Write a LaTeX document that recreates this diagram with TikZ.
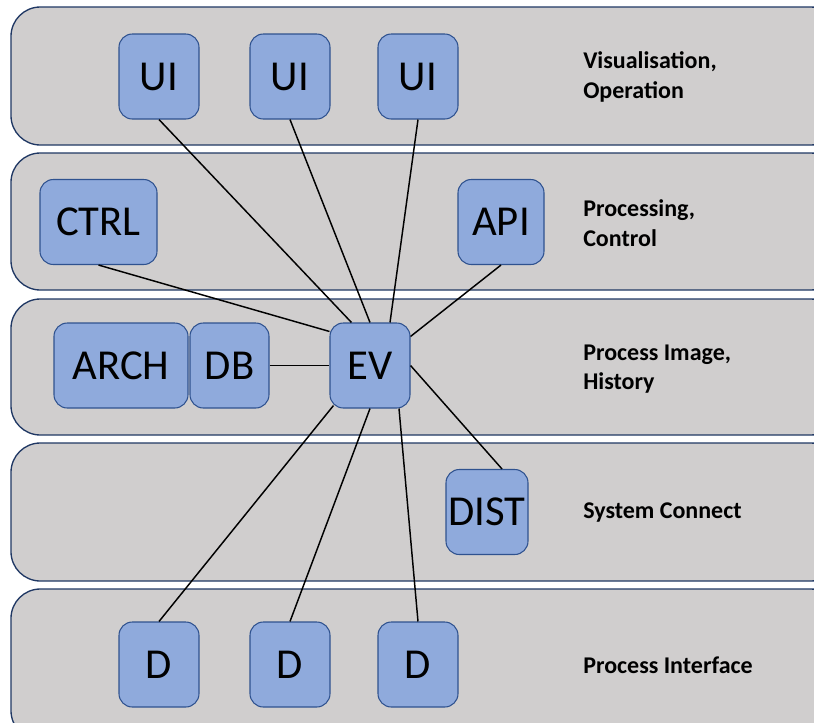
\documentclass[tikz,border=0pt]{standalone}
\usepackage{fontspec}
\setmainfont{Carlito}
\usetikzlibrary{calc}
\definecolor{bandfill}{HTML}{D0CECE}
\definecolor{bandline}{HTML}{203864}
\definecolor{boxfill}{HTML}{8FAADC}
\definecolor{boxline}{HTML}{2F528F}
\tikzset{
  band/.style={draw=bandline, fill=bandfill, line width=1pt, rounded corners=22pt},
  unit/.style={draw=boxline, fill=boxfill, line width=0.8pt, rounded corners=10pt,
    inner sep=0pt, minimum height=63.75pt, font=\fontsize{32}{36}\selectfont},
  layerlabel/.style={anchor=west, align=left, inner sep=0pt,
    font=\fontsize{18}{22}\selectfont\bfseries},
  link/.style={draw=black, line width=1.1pt}
}
\begin{document}
\begin{tikzpicture}[x=0.75pt, y=-0.75pt]
  \useasboundingbox (0,0) rectangle (814,722);
  \clip (0,0) rectangle (814,722);
  \fill[white] (0,0) rectangle (814,722);

  % layers
  \draw[band] (11,7)   rectangle (840,145);
  \draw[band] (11,153) rectangle (840,290);
  \draw[band] (11,299) rectangle (840,435);
  \draw[band] (11,443) rectangle (840,581);
  \draw[band] (11,589) rectangle (840,740);

  % layer names
  \node[layerlabel] (l1) at (583,77)  {Visualisation,\\Operation};
  \node[layerlabel] (l2) at (583,223) {Processing,\\Control};
  \node[layerlabel] (l3) at (583,369) {Process Image,\\History};
  \node[layerlabel] (l4) at (583,513) {System Connect};
  \node[layerlabel] (l5) at (583,665) {Process Interface};

  % components
  \node[unit, minimum width=60pt]   (ui1)  at (159,76.5)  {UI};
  \node[unit, minimum width=60pt]   (ui2)  at (290,76.5)  {UI};
  \node[unit, minimum width=60pt]   (ui3)  at (418,76.5)  {UI};
  \node[unit, minimum width=87.75pt] (ctrl) at (98.5,222) {CTRL};
  \node[unit, minimum width=64.5pt] (api)  at (501,222)   {API};
  \node[unit, minimum width=100.5pt] (arch) at (121,365.5) {ARCH};
  \node[unit, minimum width=59.25pt] (db)   at (229.5,365.5) {DB};
  \node[unit, minimum width=60pt]   (ev)   at (370,365.5) {EV};
  \node[unit, minimum width=61.5pt] (dist) at (487,512)   {DIST};
  \node[unit, minimum width=60pt]   (d1)   at (159,664.5) {D};
  \node[unit, minimum width=60pt]   (d2)   at (290,664.5) {D};
  \node[unit, minimum width=60pt]   (d3)   at (418,664.5) {D};

  % connections to the event hub
  \draw[link] (ui1.south)  -- ($(ev.north west)+(22,0)$);
  \draw[link] (ui2.south)  -- (ev.north);
  \draw[link] (ui3.south)  -- ($(ev.north)+(20,0)$);
  \draw[link] (ctrl.south) -- ($(ev.north west)+(0,9)$);
  \draw[link] (api.south)  -- ($(ev.north east)+(0,14)$);
  \draw[link] (db.east)    -- (ev.west);
  \draw[link] ($(dist.north)+(15,0)$) -- (ev.east);
  \draw[link] (d1.north)   -- ($(ev.south west)+(4,-3)$);
  \draw[link] (d2.north)   -- (ev.south);
  \draw[link] (d3.north)   -- ($(ev.south)+(29,0)$);
\end{tikzpicture}
\end{document}
